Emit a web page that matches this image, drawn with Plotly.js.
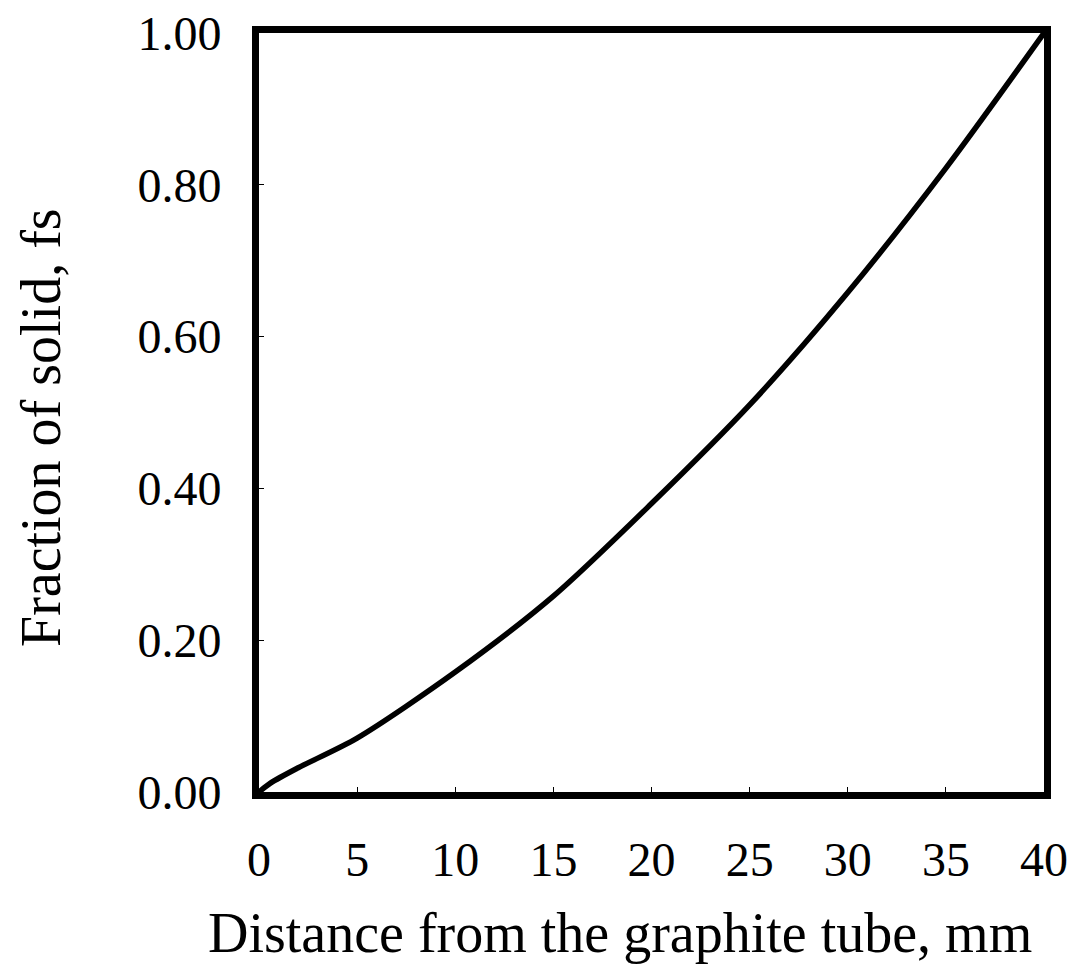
<!DOCTYPE html>
<html>
<head>
<meta charset="utf-8">
<script src="https://cdn.plot.ly/plotly-3.0.1.min.js"></script>
<style>html,body{margin:0;padding:0;background:#fff;}#chart{width:1067px;height:967px;}</style>
</head>
<body>
<div id="chart"></div>
<script>
// Distance from the graphite tube (mm)
const distance = [0, 0.6, 2, 5, 10, 15, 20, 25, 30, 35, 40];
// Fraction of solid, fs
const fractionSolid = [0, 0.012, 0.032, 0.071, 0.158, 0.258, 0.380, 0.510, 0.658, 0.822, 1.0];
const xTicks = [0, 5, 10, 15, 20, 25, 30, 35, 40];
const yTicks = [0, 0.2, 0.4, 0.6, 0.8, 1.0];
const yTickText = ['0.00', '0.20', '0.40', '0.60', '0.80', '1.00'];
const xTitle = 'Distance from the graphite tube, mm';
const yTitle = 'Fraction of solid, fs';

const font = 'Liberation Serif, Times New Roman, serif';

const trace = {
  x: distance,
  y: fractionSolid,
  type: 'scatter',
  mode: 'lines',
  line: {color: '#000', width: 5.5, shape: 'spline', smoothing: 0.8},
  showlegend: false,
  hoverinfo: 'skip'
};

const commonAxis = {
  ticks: 'inside',
  ticklen: 5,
  tickwidth: 1,
  tickcolor: '#000',
  showgrid: false,
  zeroline: false,
  showline: true,
  mirror: true,
  linecolor: '#000',
  linewidth: 7,
  tickfont: {family: font, size: 48, color: '#000'},
  ticklabeloverflow: 'allow',
  automargin: false,
  fixedrange: true
};

const layout = {
  width: 1067,
  height: 967,
  paper_bgcolor: '#fff',
  plot_bgcolor: '#fff',
  margin: {l: 259, r: 23, t: 33, b: 175, autoexpand: false},
  font: {family: font, color: '#000'},
  xaxis: Object.assign({}, commonAxis, {
    range: [0, 40],
    tickvals: xTicks,
    ticktext: xTicks.map(String),
    ticklabelstandoff: 19
  }),
  yaxis: Object.assign({}, commonAxis, {
    range: [0, 1],
    tickvals: yTicks,
    ticktext: yTickText,
    ticklabelstandoff: 21
  }),
  annotations: [
    {
      text: xTitle, xref: 'paper', yref: 'paper',
      x: (620 - 259) / 785, y: (792 - 933) / 759,
      xanchor: 'center', yanchor: 'middle', showarrow: false,
      font: {family: font, size: 56, color: '#000'}
    },
    {
      text: yTitle, xref: 'paper', yref: 'paper', textangle: -90,
      x: (41 - 259) / 785, y: (792 - 428) / 759,
      xanchor: 'center', yanchor: 'middle', showarrow: false,
      font: {family: font, size: 56, color: '#000'}
    }
  ]
};

Plotly.newPlot('chart', [trace], layout, {displayModeBar: false, staticPlot: true});
</script>
</body>
</html>
